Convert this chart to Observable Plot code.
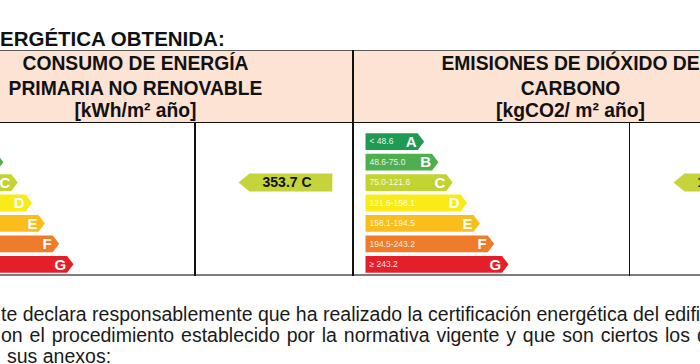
<!DOCTYPE html>
<html>
<head>
<meta charset="utf-8">
<script src="https://cdn.jsdelivr.net/npm/d3@7"></script>
<script src="https://cdn.jsdelivr.net/npm/@observablehq/plot@0.6"></script>
<style>
  html, body { margin: 0; padding: 0; background: #fff; }
  #page { position: relative; width: 700px; height: 364px; overflow: hidden; background: #fff;
          font-family: "Liberation Sans", Arial, Helvetica, sans-serif; color: #111; }
  .abs { position: absolute; }
  .title { left: 0; top: 29px; font-size: 20.5px; font-weight: bold; line-height: 1; white-space: nowrap; }
  .panel { top: 50px; width: 435px; height: 226px; }
  .head { position: absolute; left: 0; top: 0; width: 435px; height: 71px; background: #fce3d4;
          border-top: 1px solid #5a5a5a; border-bottom: 1.5px solid #111; }
  .hl { position: absolute; left: 0; width: 435px; text-align: center; font-size: 19.3px;
        font-weight: bold; line-height: 1; white-space: nowrap; }
  .body { position: absolute; left: 0; top: 72px; width: 435px; height: 152px; border-bottom: 2px solid #7d7d7d; }
  .vline { position: absolute; width: 1.5px; background: #111; }
  .txt { position: absolute; font-size: 19.5px; line-height: 1; white-space: nowrap; color: #1a1a1a; }
</style>
</head>
<body>
<div id="page"></div>
<script>
// ---- data ----
const classes = ["A", "B", "C", "D", "E", "F", "G"];
const classLength = [0.41, 0.51, 0.61, 0.71, 0.80, 0.90, 1.00];   // relative bar length
const classColors = ["#1f9a53", "#4fae4e", "#c2d431", "#f9eb18", "#f9bd1c", "#ef7b2b", "#e31f2a"];
const emissionRanges = ["< 48.6", "48.6-75.0", "75.0-121.6", "121.6-158.1", "158.1-194.5", "194.5-243.2", "≥ 243.2"];
const energyValue = 353.7, energyClass = "C";
const emissionValue = 105.6, emissionClass = "C";
const headerEnergy = ["CONSUMO DE ENERGÍA", "PRIMARIA NO RENOVABLE", "[kWh/m² año]"];
const headerEmission = ["EMISIONES DE DIÓXIDO DE", "CARBONO", "[kgCO2/ m² año]"];
const titleText = "ERGÉTICA OBTENIDA:";
const bodyLines = [
  "te declara responsablemente que ha realizado la certificación energética del edificio",
  "on el procedimiento establecido por la normativa vigente y que son ciertos los datos",
  "sus anexos:"
];

// ---- chart for one panel ----
function panelChart(ranges, value, valueClass) {
  const h = 0.41, d = 0.045;               // bar half-height (rows), tip depth (x units)
  const poly = classes.flatMap((c, i) => {
    const L = classLength[i];
    return [
      {c, x: 0, y: i - h}, {c, x: L - d, y: i - h}, {c, x: L, y: i},
      {c, x: L - d, y: i + h}, {c, x: 0, y: i + h}
    ];
  });
  const letters = classes.map((c, i) => ({c, x: classLength[i] - d, y: i}));
  const labels = ranges ? classes.map((c, i) => ({t: ranges[i], y: i})) : [];
  const vi = classes.indexOf(valueClass);
  const tip = 2.154, end = 2.81, h2 = 0.44, d2 = 0.077;
  const ind = [
    {x: tip, y: vi}, {x: tip + d2, y: vi - h2}, {x: end, y: vi - h2},
    {x: end, y: vi + h2}, {x: tip + d2, y: vi + h2}
  ];
  return Plot.plot({
    width: 435, height: 153,
    marginTop: 9, marginBottom: 1, marginLeft: 0, marginRight: 0,
    x: {domain: [0, 3], range: [12, 441], axis: null},
    y: {domain: [-0.5, 6.5], reverse: true, axis: null},
    color: {domain: classes, range: classColors},
    style: {background: "transparent", fontFamily: "Liberation Sans, Arial, sans-serif", overflow: "visible"},
    marks: [
      Plot.line(poly, {x: "x", y: "y", z: "c", fill: "c", stroke: "none"}),
      Plot.text(labels, {x: 0, y: "y", text: "t", dx: 4, textAnchor: "start", fill: "#ffffff",
                         fillOpacity: 0.9, fontSize: 8.5}),
      Plot.text(letters, {x: "x", y: "y", text: "c", dx: -1, dy: 0.5, textAnchor: "end", fill: "#ffffff",
                          fontWeight: "bold", fontSize: 15}),
      Plot.line(ind, {x: "x", y: "y", fill: "#c4d43a", stroke: "none"}),
      Plot.text([{v: value, c: valueClass, y: vi}], {x: tip, y: "y", text: d => `${d.v.toFixed(1)} ${d.c}`,
                 dx: 24, textAnchor: "start", fill: "#111", fontWeight: "bold", fontSize: 14})
    ]
  });
}

// ---- layout ----
const page = document.getElementById("page");
function el(cls, style, text) {
  const e = document.createElement("div");
  e.className = cls;
  Object.assign(e.style, style || {});
  if (text != null) e.textContent = text;
  return e;
}
page.appendChild(el("abs title", {}, titleText));

function buildPanel(left, header, ranges, value, cls) {
  const p = el("abs panel", {left: left + "px"});
  const head = el("head");
  const tops = [2.6, 27.6, 49.6];
  header.forEach((t, i) => head.appendChild(el("hl", {top: tops[i] + "px"}, t)));
  p.appendChild(head);
  const body = el("body");
  body.appendChild(panelChart(ranges, value, cls));
  p.appendChild(body);
  page.appendChild(p);
}
buildPanel(-82, headerEnergy, null, energyValue, energyClass);
buildPanel(353, headerEmission, emissionRanges, emissionValue, emissionClass);

// vertical rules
page.appendChild(el("vline", {left: "352px", top: "50px", height: "226px"}));
page.appendChild(el("vline", {left: "194px", top: "122px", height: "154px"}));
page.appendChild(el("vline", {left: "628.5px", top: "122px", height: "154px"}));

// paragraph below
const lineTops = [304.5, 325.5, 346.5];
const lineLefts = [1, 1, 7];
const spacing = ["0px", "1.5px", "0px"];
bodyLines.forEach((t, i) => page.appendChild(el("txt", {top: lineTops[i] + "px", left: lineLefts[i] + "px", wordSpacing: spacing[i]}, t)));
</script>
</body>
</html>
